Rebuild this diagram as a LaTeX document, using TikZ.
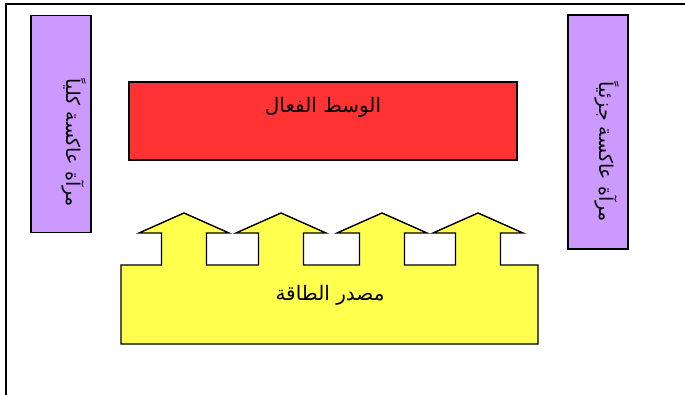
\documentclass[tikz,border=0pt]{standalone}
\usepackage{fontspec}
\newfontfamily\arabicfont[Script=Arabic]{DejaVu Sans}
\TeXXeTstate=1
\definecolor{mirrorpurple}{HTML}{CC99FF}
\definecolor{mediumred}{HTML}{FF3333}
\definecolor{sourceyellow}{HTML}{FFFF4D}

\begin{document}
\begin{tikzpicture}[x=1pt, y=-1pt, every node/.style={font=\arabicfont\fontsize{20}{24}\selectfont}]
    \tikzset{mirror/.style={draw=black,line width=1.4pt,fill=mirrorpurple,minimum width=60pt,inner sep=0pt},
      medium/.style={draw=black,line width=1.4pt,fill=mediumred,minimum width=388pt,minimum height=78pt,inner sep=0pt},
      energy/.style={draw=black,line width=1.4pt,fill=sourceyellow,line join=miter},
      artext/.style={inner sep=0pt},
      mirrortext/.style={inner sep=0pt,rotate=-90,font=\arabicfont\fontsize{19}{23}\selectfont}}
    \useasboundingbox (0,0) rectangle (685,394);
    % frame
    \draw[line width=2pt] (5.5,400) -- (5.5,3.5) -- (690,3.5);
    % mirrors and medium
    \node[mirror,minimum height=217pt] (mirrorL) at (61,124) {};
    \node[mirror,minimum height=234pt] (mirrorR) at (598,132) {};
    \node[medium] (medium) at (323,121) {};
    \node[mirrortext] (mirrorLtext) at (74,143) {\beginR مرآة عاكسة كلياً\endR};
    \node[mirrortext] (mirrorRtext) at (607,152) {\beginR مرآة عاكسة جزئياً\endR};
    \node[artext] (mediumtext) at (323,107) {\beginR الوسط الفعال\endR};
    % energy source with arrows
    \draw[energy] (121,344) -- (121,265)
      \foreach \a in {184,281,382,478} {
        -- (\a-22.5,265) -- (\a-22.5,233) -- (\a-45,233) -- (\a,213)
        -- (\a+45,233) -- (\a+22.5,233) -- (\a+22.5,265)}
      -- (538,265) -- (538,344) -- cycle;
    \node[artext] (sourcetext) at (330,295) {\beginR مصدر الطاقة\endR};
\end{tikzpicture}
\end{document}
